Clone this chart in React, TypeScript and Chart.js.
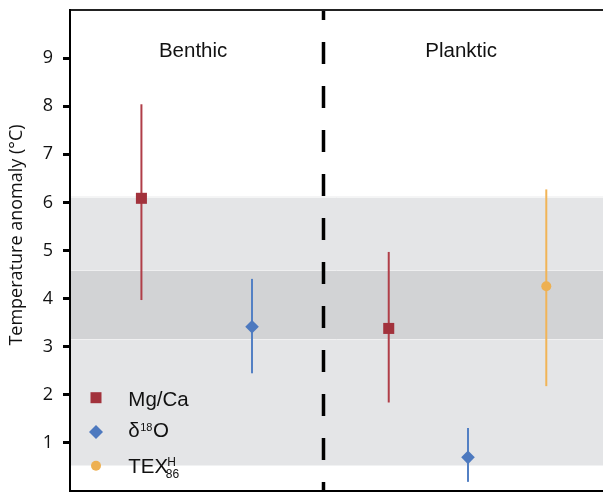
import React, { useEffect, useRef } from 'react';
import { Chart, registerables } from 'chart.js';

Chart.register(...registerables);

// ---- data ----
const groupNames = ['Benthic', 'Planktic'];
const groupCentersX = [2.31, 7.34];
const dividerX = 4.756;

const mgcaX = [1.34, 5.98];
const mgcaY = [6.085, 3.38];
const mgcaLow = [3.97, 1.84];
const mgcaHigh = [8.04, 4.97];

const d18oX = [3.415, 7.467];
const d18oY = [3.416, 0.7];
const d18oLow = [2.447, 0.19];
const d18oHigh = [4.41, 1.31];

const texX = [8.936];
const texY = [4.256];
const texLow = [2.18];
const texHigh = [6.27];

const lightBand = [0.53, 6.12];
const darkBand = [3.15, 4.59];

const yTicks = [1, 2, 3, 4, 5, 6, 7, 8, 9];
const yTitle = 'Temperature anomaly (°C)';

const RED = '#A2323C';
const RED_BAR = '#B03E48';
const BLUE = '#4D79BF';
const BLUE_BAR = '#5380C4';
const ORANGE = '#EDB052';
const ORANGE_BAR = '#F1B457';
const LIGHT = '#E4E5E7';
const DARK = '#D2D3D5';
const HELV = '"Liberation Sans", Arial, Helvetica, sans-serif';
const MYR = '"Open Sans", "Noto Sans", sans-serif';

const toPts = (xs: number[], ys: number[]) => xs.map((x, i) => ({ x, y: ys[i] }));

const zeroPad = (s: any) => {
  s.paddingTop = 0;
  s.paddingBottom = 0;
  s.paddingLeft = 0;
  s.paddingRight = 0;
};

export default function App() {
  const ref = useRef<HTMLCanvasElement | null>(null);

  useEffect(() => {
    if (!ref.current) return;

    const errorSets = [
      { xs: mgcaX, lo: mgcaLow, hi: mgcaHigh, color: RED_BAR },
      { xs: d18oX, lo: d18oLow, hi: d18oHigh, color: BLUE_BAR },
      { xs: texX, lo: texLow, hi: texHigh, color: ORANGE_BAR },
    ];

    const backgroundPlugin = {
      id: 'bg',
      beforeDraw(chart: any) {
        const { ctx, chartArea, scales } = chart;
        const y = scales.y;
        const x = scales.x;
        ctx.save();
        const band = (lohi: number[], color: string) => {
          const y1 = y.getPixelForValue(lohi[1]);
          const y0 = y.getPixelForValue(lohi[0]);
          ctx.fillStyle = color;
          ctx.fillRect(chartArea.left, y1, chartArea.right - chartArea.left, y0 - y1);
        };
        band(lightBand, LIGHT);
        band(darkBand, DARK);
        ctx.strokeStyle = 'rgba(255,255,255,0.6)';
        ctx.lineWidth = 1;
        [darkBand[0], darkBand[1], lightBand[1]].forEach((v) => {
          const py = Math.round(y.getPixelForValue(v)) + 0.5;
          ctx.beginPath();
          ctx.moveTo(chartArea.left, py);
          ctx.lineTo(chartArea.right, py);
          ctx.stroke();
        });
        const dx = x.getPixelForValue(dividerX);
        ctx.strokeStyle = '#000';
        ctx.lineWidth = 3.5;
        ctx.setLineDash([22, 22]);
        ctx.lineDashOffset = 12;
        ctx.beginPath();
        ctx.moveTo(dx, chartArea.top);
        ctx.lineTo(dx, chartArea.bottom);
        ctx.stroke();
        ctx.restore();
      },
      beforeDatasetsDraw(chart: any) {
        const { ctx, scales } = chart;
        ctx.save();
        ctx.lineWidth = 2;
        errorSets.forEach((s) => {
          ctx.strokeStyle = s.color;
          s.xs.forEach((xv, i) => {
            const px = scales.x.getPixelForValue(xv);
            ctx.beginPath();
            ctx.moveTo(px, scales.y.getPixelForValue(s.lo[i]));
            ctx.lineTo(px, scales.y.getPixelForValue(s.hi[i]));
            ctx.stroke();
          });
        });
        ctx.restore();
      },
      afterDraw(chart: any) {
        const { ctx, chartArea, scales } = chart;
        ctx.save();
        ctx.fillStyle = '#111';
        ctx.font = `20.5px ${HELV}`;
        ctx.textAlign = 'center';
        ctx.textBaseline = 'alphabetic';
        groupNames.forEach((g, i) => {
          ctx.fillText(g, scales.x.getPixelForValue(groupCentersX[i]), chartArea.top + 47.3);
        });
        ctx.save();
        ctx.translate(17, 235);
        ctx.rotate(-Math.PI / 2);
        ctx.font = `18px ${MYR}`;
        ctx.textAlign = 'center';
        ctx.textBaseline = 'middle';
        ctx.fillText(yTitle, 0, 0);
        ctx.restore();

        const mx = chartArea.left + 26;
        const tx = chartArea.left + 58.3;
        const r1 = chartArea.top + 387.7;
        const r2 = chartArea.top + 422;
        const r3 = chartArea.top + 455.7;
        ctx.fillStyle = RED;
        ctx.fillRect(mx - 5.5, r1 - 5.5, 11, 11);
        ctx.fillStyle = BLUE;
        ctx.beginPath();
        ctx.moveTo(mx, r2 - 7);
        ctx.lineTo(mx + 7, r2);
        ctx.lineTo(mx, r2 + 7);
        ctx.lineTo(mx - 7, r2);
        ctx.closePath();
        ctx.fill();
        ctx.fillStyle = ORANGE;
        ctx.beginPath();
        ctx.arc(mx, r3, 5, 0, Math.PI * 2);
        ctx.fill();

        ctx.fillStyle = '#111';
        ctx.textAlign = 'left';
        ctx.textBaseline = 'alphabetic';
        ctx.font = `20.5px ${HELV}`;
        ctx.fillText('Mg/Ca', tx, r1 + 8);
        let cx = tx;
        ctx.fillText('δ', cx, r2 + 5.3);
        cx += ctx.measureText('δ').width + 0.5;
        ctx.font = `11px ${HELV}`;
        ctx.fillText('18', cx, r2 - 1.3);
        cx += ctx.measureText('18').width + 0.5;
        ctx.font = `20.5px ${HELV}`;
        ctx.fillText('O', cx, r2 + 5.3);
        ctx.fillText('TEX', tx, r3 + 7);
        const w = ctx.measureText('TEX').width;
        ctx.font = `12px ${HELV}`;
        ctx.fillText('H', tx + w - 1, r3 + 0.3);
        ctx.fillText('86', tx + w - 2.3, r3 + 12.6);
        ctx.restore();
      },
    };

    const chart = new Chart(ref.current, {
      type: 'scatter',
      data: {
        datasets: [
          {
            label: 'Mg/Ca',
            data: toPts(mgcaX, mgcaY),
            pointStyle: 'rect',
            pointRadius: 7.8,
            pointBackgroundColor: RED,
            pointBorderColor: RED,
            pointBorderWidth: 0,
          },
          {
            label: 'δ18O',
            data: toPts(d18oX, d18oY),
            pointStyle: 'rectRot',
            pointRadius: 6.8,
            pointBackgroundColor: BLUE,
            pointBorderColor: BLUE,
            pointBorderWidth: 0,
          },
          {
            label: 'TEX86H',
            data: toPts(texX, texY),
            pointStyle: 'circle',
            pointRadius: 5,
            pointBackgroundColor: ORANGE,
            pointBorderColor: ORANGE,
            pointBorderWidth: 0,
          },
        ],
      },
      options: {
        animation: false,
        responsive: true,
        maintainAspectRatio: false,
        layout: { autoPadding: false, padding: { top: 10, left: 0, right: 0, bottom: 0 } },
        plugins: { legend: { display: false }, tooltip: { enabled: false } },
        scales: {
          x: {
            type: 'linear',
            position: 'bottom',
            min: 0,
            max: 10,
            grid: { display: false },
            ticks: { display: false },
            border: { display: true, color: '#000', width: 2 },
            afterFit: (s: any) => {
              s.height = 1;
              zeroPad(s);
            },
          },
          x2: {
            type: 'linear',
            position: 'top',
            min: 0,
            max: 10,
            grid: { display: false },
            ticks: { display: false },
            border: { display: true, color: '#222', width: 2 },
            afterFit: (s: any) => {
              s.height = 0;
              zeroPad(s);
            },
          },
          y: {
            type: 'linear',
            min: 0,
            max: 10,
            afterBuildTicks: (s: any) => {
              s.ticks = yTicks.map((v) => ({ value: v }));
            },
            grid: {
              display: true,
              drawOnChartArea: false,
              drawTicks: true,
              tickLength: 7,
              lineWidth: 3,
              color: '#000',
            },
            border: { display: true, color: '#000', width: 2 },
            ticks: {
              padding: 10,
              color: '#111',
              font: { family: MYR, size: 18 },
            },
            afterFit: (s: any) => {
              s.width = 70;
              zeroPad(s);
            },
          },
        },
      } as any,
      plugins: [backgroundPlugin],
    });

    return () => chart.destroy();
  }, []);

  return (
    <div style={{ position: 'fixed', left: 0, top: 0, width: 603, height: 492, background: '#fff' }}>
      <canvas ref={ref} />
    </div>
  );
}
